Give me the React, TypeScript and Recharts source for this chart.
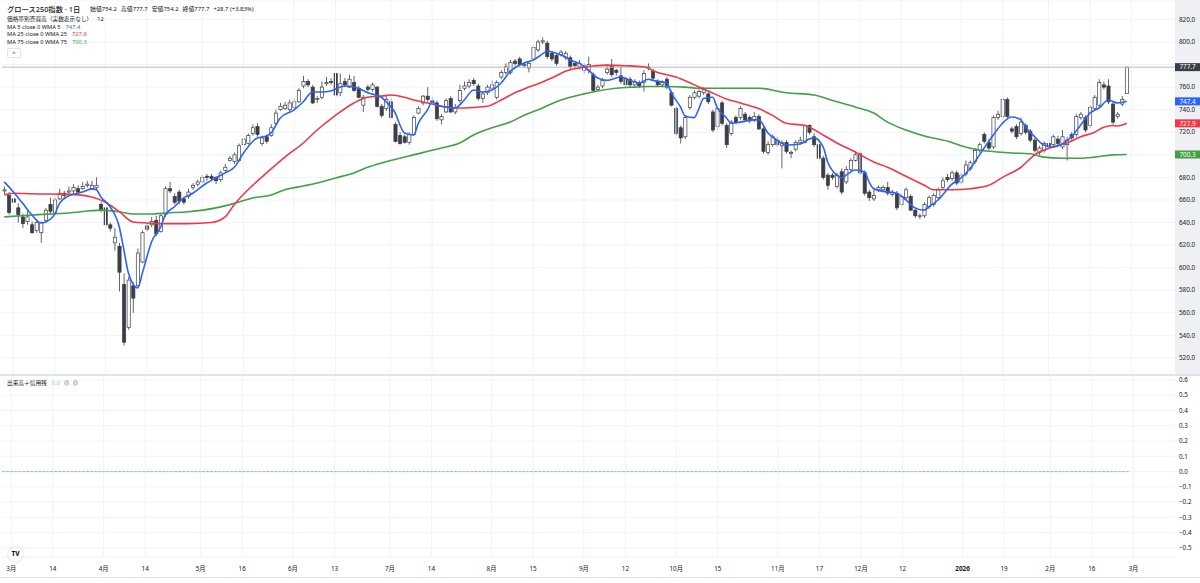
import React from "react";
import { Bar, CartesianGrid, ComposedChart, Line, ReferenceLine, XAxis, YAxis } from "recharts";

const FONT = "'Noto Sans', 'Noto Sans CJK JP', sans-serif";

// Tokyo exchange closed days inside the range
const holidays = [
  "2025-03-20", "2025-04-29", "2025-05-05", "2025-05-06", "2025-07-21", "2025-08-11",
  "2025-09-15", "2025-09-23", "2025-10-13", "2025-11-03", "2025-11-24", "2025-12-31",
  "2026-01-01", "2026-01-02", "2026-01-12", "2026-02-11", "2026-02-23",
];

const opens = [
  668, 664, 661, 653, 645, 641, 638, 633, 631, 642, 656, 649, 661, 666, 667, 668, 670, 670, 673, 670,
  671, 656, 653, 638, 622, 619, 585, 547, 584, 584, 605, 637, 638, 642, 632, 647, 670, 663, 667, 661,
  663, 671, 674, 676, 681, 681, 680, 678, 686, 695, 694, 695, 709, 710, 719, 725, 710, 716, 717, 728,
  740, 741, 740, 742, 747, 761, 765, 760, 749, 751, 763, 765, 772, 755, 765, 760, 764, 759, 744, 760,
  758, 760, 743, 741, 747, 727, 717, 716, 711, 718, 737, 746, 752, 748, 746, 731, 738, 750, 738, 748,
  759, 761, 766, 761, 750, 755, 759, 751, 769, 773, 773, 783, 785, 779, 777, 785, 793, 800, 799, 790,
  788, 789, 786, 786, 781, 778, 775, 775, 771, 758, 761, 773, 779, 775, 770, 768, 767, 762, 764, 764,
  777, 774, 765, 762, 767, 755, 741, 724, 716, 742, 751, 752, 755, 754, 738, 725, 746, 726, 719, 733,
  733, 736, 733, 731, 734, 723, 702, 709, 713, 708, 711, 702, 705, 711, 711, 726, 716, 709, 697, 682,
  682, 672, 685, 676, 687, 695, 701, 684, 667, 661, 669, 669, 671, 665, 666, 656, 662, 663, 651, 646,
  646, 654, 656, 662, 671, 680, 679, 684, 676, 683, 688, 694, 704, 718, 711, 707, 733, 734, 749, 723,
  725, 719, 726, 721, 713, 702, 704, 710, 709, 714, 707, 709, 718, 718, 733, 733, 726, 741, 744, 762,
  761, 745, 734, 745, 754.2,
];
const highs = [
  672, 667, 662, 657, 648, 650, 641, 643, 641, 653, 662, 662, 670, 668, 672, 674, 673, 676, 677, 677,
  680, 658, 655, 640, 635, 622, 595, 592, 587, 617, 633, 640, 645, 646, 648, 672, 676, 666, 669, 663,
  670, 675, 678, 682, 683, 683, 681, 686, 692, 699, 702, 710, 716, 719, 727, 728, 717, 718, 727, 740,
  746, 747, 749, 750, 759, 770, 767, 762, 752, 765, 769, 768, 773, 772, 768, 771, 770, 761, 753, 762,
  764, 761, 745, 752, 750, 729, 720, 718, 720, 735, 743, 753, 760, 751, 748, 736, 750, 752, 745, 762,
  765, 767, 768, 763, 756, 762, 766, 766, 775, 781, 784, 785, 787, 782, 782, 797, 802, 804, 801, 792,
  790, 793, 792, 788, 783, 784, 781, 787, 773, 762, 768, 780, 785, 776, 778, 770, 769, 767, 766, 775,
  781, 776, 767, 766, 769, 757, 743, 726, 735, 753, 757, 758, 760, 756, 740, 743, 748, 728, 731, 735,
  743, 738, 735, 738, 736, 725, 712, 718, 716, 713, 713, 704, 713, 716, 727, 727, 719, 711, 699, 684,
  684, 684, 688, 690, 697, 703, 703, 686, 669, 671, 673, 673, 676, 669, 668, 666, 671, 665, 653, 648,
  658, 664, 666, 671, 680, 683, 686, 686, 684, 695, 695, 706, 711, 720, 714, 735, 739, 751, 751, 725,
  727, 733, 728, 723, 715, 708, 712, 714, 718, 717, 722, 716, 720, 736, 738, 735, 744, 753, 767, 765,
  767, 747, 738, 752, 777.7,
];
const lows = [
  665, 647, 657, 640, 635, 638, 630, 631, 622, 640, 648, 647, 660, 661, 664, 666, 665, 669, 671, 669,
  669, 649, 636, 632, 615, 579, 531, 545, 560, 583, 604, 632, 636, 628, 631, 645, 666, 656, 656, 656,
  661, 669, 672, 675, 677, 677, 674, 676, 685, 694, 692, 694, 707, 709, 717, 716, 708, 710, 716, 727,
  739, 740, 737, 741, 746, 759, 760, 745, 746, 749, 761, 762, 751, 752, 760, 759, 756, 750, 738, 756,
  756, 742, 733, 739, 732, 711, 709, 710, 709, 717, 736, 744, 747, 745, 730, 727, 737, 737, 736, 746,
  757, 759, 761, 748, 746, 753, 757, 749, 767, 771, 771, 779, 778, 777, 773, 783, 791, 798, 785, 783,
  779, 787, 784, 776, 777, 776, 772, 772, 755, 757, 759, 771, 769, 770, 763, 760, 760, 760, 759, 756,
  775, 766, 760, 760, 758, 743, 717, 710, 714, 740, 749, 750, 753, 745, 720, 722, 726, 706, 717, 727,
  731, 729, 728, 729, 722, 701, 700, 707, 707, 688, 701, 697, 703, 709, 710, 718, 707, 694, 678, 669,
  678, 670, 665, 674, 685, 694, 682, 664, 659, 659, 667, 667, 664, 663, 651, 654, 660, 650, 644, 643,
  644, 652, 654, 660, 669, 676, 677, 673, 674, 681, 686, 692, 702, 710, 704, 705, 731, 732, 732, 719,
  714, 717, 718, 711, 702, 700, 702, 705, 707, 708, 705, 695, 713, 716, 731, 720, 724, 739, 742, 758,
  745, 727, 732, 743, 754.2,
];
const closes = [
  669, 649, 658, 647, 639, 645, 631, 640, 640, 651, 650, 660, 666, 664, 668, 671, 667, 672, 674, 673,
  673, 651, 638, 635, 627, 596, 534, 589, 573, 613, 631, 634, 641, 630, 646, 670, 668, 658, 659, 658,
  667, 673, 676, 680, 680, 679, 677, 684, 689, 697, 700, 708, 714, 717, 724, 718, 715, 712, 724, 737,
  743, 744, 746, 747, 757, 765, 762, 746, 750, 760, 764, 764, 753, 763, 762, 767, 757, 751, 751, 758,
  762, 743, 735, 749, 733, 712, 710, 711, 718, 733, 741, 752, 749, 747, 732, 734, 748, 738, 742, 757,
  761, 764, 763, 750, 754, 760, 762, 764, 773, 778, 782, 781, 780, 780, 781, 795, 800, 801, 787, 785,
  781, 791, 790, 778, 779, 781, 779, 780, 757, 760, 766, 776, 771, 773, 765, 762, 762, 765, 761, 772,
  778, 768, 762, 764, 760, 744, 719, 715, 733, 751, 755, 756, 758, 747, 722, 741, 728, 709, 729, 729,
  741, 731, 730, 734, 723, 703, 709, 716, 709, 711, 703, 702, 711, 713, 726, 720, 709, 697, 680, 673,
  680, 682, 667, 687, 695, 700, 684, 666, 662, 664, 671, 671, 666, 667, 653, 663, 669, 651, 646, 646,
  656, 662, 664, 669, 677, 678, 684, 675, 682, 691, 693, 704, 709, 712, 706, 733, 736, 749, 734, 721,
  716, 729, 720, 713, 704, 706, 710, 707, 716, 710, 716, 713, 715, 734, 736, 722, 742, 751, 764, 760,
  747, 729, 736, 749, 777.7,
];

// moving averages: [candle index, value]
const ma5Points: [number, number][] = [
  [0, 676], [2, 667], [4, 657], [6, 646.7], [8, 639.6], [9, 640.5], [11, 647.6], [12, 657], [14, 663.6],
  [17, 667], [19, 669.8], [20, 669], [21, 662.7], [23, 654], [25, 636], [26, 615.7], [27, 595], [29, 582],
  [30, 595], [31, 609.5], [32, 622.8], [34, 636], [35, 646.7], [37, 654], [39, 661.8], [41, 666], [44, 675],
  [46, 679.5], [48, 684], [50, 689], [52, 701.6], [55, 715], [57, 716.7], [58, 719.4], [60, 732.7],
  [63, 739.8], [65, 747], [67, 755.7], [69, 755.7], [71, 756.6], [74, 761], [77, 759], [79, 755], [82, 751],
  [83, 747], [85, 737], [86, 726.5], [87, 719.4], [89, 717.6], [90, 728], [92, 739.8], [93, 747], [94, 744],
  [96, 742.4], [98, 741.5], [100, 748.6], [102, 757.5], [104, 755.7], [106, 757.5], [108, 763.7], [110, 774],
  [113, 781.4], [115, 784], [117, 789.4], [118, 792], [120, 790], [122, 786.7], [123, 784], [125, 781],
  [127, 775], [129, 768], [131, 766], [134, 769], [136, 766], [138, 763.7], [140, 767], [141, 766],
  [144, 763.7], [145, 755], [147, 742.4], [148, 734.4], [150, 733], [151, 741], [152, 750], [154, 751],
  [155, 741.5], [157, 732.7], [158, 728], [160, 729], [163, 731], [164, 731], [166, 719.4], [168, 713],
  [170, 708.7], [173, 709.6], [175, 714], [176, 715], [178, 707], [179, 693.7], [181, 682], [182, 679.5],
  [183, 682], [185, 686.6], [187, 685], [188, 676], [189, 670], [192, 667], [194, 666], [196, 660],
  [198, 653], [200, 651], [201, 654], [203, 660], [206, 674], [208, 679.5], [210, 688], [212, 700],
  [213, 706], [215, 717.6], [217, 728], [219, 733.5], [221, 731], [222, 724.7], [224, 716], [226, 708.7],
  [228, 707], [230, 709.6], [232, 716], [234, 726.5], [236, 737], [238, 741.5], [240, 748.6], [242, 746],
  [244, 747.4],
];
const ma25Points: [number, number][] = [
  [0, 664.5], [2, 666], [6, 665.5], [14, 665], [19, 662.7], [22, 658], [25, 649.6], [28, 640.5], [31, 639.6],
  [35, 639], [40, 639], [45, 640], [48, 645], [50, 656], [54, 673], [57, 684], [61, 698], [65, 710.5],
  [68, 722], [72, 735], [76, 746], [79, 751], [82, 752], [84, 753], [87, 751], [89, 748.6], [92, 746],
  [95, 743], [98, 741.5], [102, 742], [105, 743], [108, 748.6], [111, 755], [114, 760], [117, 764.5],
  [120, 770], [122, 774], [125, 777], [128, 778.7], [131, 779.5], [135, 779], [139, 778], [142, 773],
  [146, 769], [150, 762], [153, 756.6], [157, 749.5], [160, 746], [164, 741], [167, 735], [170, 728],
  [174, 726], [178, 717.6], [181, 710.5], [185, 702.5], [189, 693.7], [192, 689], [196, 681], [200, 673],
  [202, 669], [206, 669], [210, 670], [214, 673], [217, 680], [221, 689], [224, 700], [228, 707],
  [231, 710.5], [234, 716], [237, 720], [239, 724.5], [241, 726], [242, 725.5], [244, 727.9],
];
const ma75Points: [number, number][] = [
  [0, 645], [6, 646.7], [14, 648.5], [21, 651], [25, 649.6], [28, 647.6], [32, 647.6], [35, 648.5],
  [40, 649.6], [46, 653], [50, 657], [54, 661.8], [58, 664.4], [61, 669], [65, 672.4], [68, 675],
  [72, 679.5], [76, 684], [79, 689], [82, 692.8], [88, 699], [95, 706], [99, 710.5], [102, 717.6],
  [106, 724], [110, 729], [113, 735], [117, 741.5], [120, 747], [123, 751], [126, 754], [129, 756.6],
  [133, 759], [137, 760], [140, 760.5], [144, 760.5], [148, 760], [151, 759], [155, 759], [158, 759],
  [164, 759], [170, 755], [176, 753], [181, 747], [185, 742.4], [189, 737], [192, 729], [196, 722],
  [200, 716.7], [206, 711], [208, 708], [212, 704.3], [216, 702.5], [219, 701.6], [223, 701], [226, 698],
  [230, 697], [234, 697], [237, 698], [241, 700], [244, 700.3],
];

const tickDates = [
  "2025-03-03", "2025-03-14", "2025-04-01", "2025-04-14", "2025-05-01", "2025-05-16", "2025-06-02",
  "2025-06-13", "2025-07-01", "2025-07-14", "2025-08-01", "2025-08-15", "2025-09-01", "2025-09-12",
  "2025-10-01", "2025-10-15", "2025-11-04", "2025-11-17", "2025-12-01", "2025-12-12", "2026-01-05",
  "2026-01-19", "2026-02-02", "2026-02-16", "2026-03-02",
];
const tickLabels = [
  "3月", "14", "4月", "14", "5月", "16", "6月", "13", "7月", "14", "8月", "15", "9月", "12",
  "10月", "15", "11月", "17", "12月", "12", "2026", "19", "2月", "16", "3月",
];
const priceTicks = [520, 540, 560, 580, 600, 620, 640, 660, 680, 700, 720, 740, 760, 780, 800, 820];
const hiddenPriceTicks = [700, 780];
const volTicks = [-0.5, -0.4, -0.3, -0.2, -0.1, 0, 0.1, 0.2, 0.3, 0.4, 0.5, 0.6];

const SLOTS = 255;
const START = "2025-02-27";

function tradingDays(): string[] {
  const out: string[] = [];
  const d = new Date(START + "T00:00:00Z");
  while (out.length < SLOTS) {
    const iso = d.toISOString().slice(0, 10);
    const wd = d.getUTCDay();
    if (wd !== 0 && wd !== 6 && !holidays.includes(iso)) out.push(iso);
    d.setUTCDate(d.getUTCDate() + 1);
  }
  return out;
}

const toMap = (pts: [number, number][]) => new Map(pts.map(([i, v]) => [i, v]));
const ma5Map = toMap(ma5Points);
const ma25Map = toMap(ma25Points);
const ma75Map = toMap(ma75Points);

const rows = tradingDays().map((d, i) => {
  const has = i < closes.length;
  return {
    d,
    o: has ? opens[i] : undefined,
    h: has ? highs[i] : undefined,
    l: has ? lows[i] : undefined,
    c: has ? closes[i] : undefined,
    ma5: ma5Map.get(i),
    ma25: ma25Map.get(i),
    ma75: ma75Map.get(i),
    vol: has ? 0 : undefined,
  };
});

const last = closes.length - 1;
const lastClose = closes[last];
const prevClose = closes[last - 1];
const lastMa5 = ma5Points[ma5Points.length - 1][1];
const lastMa25 = ma25Points[ma25Points.length - 1][1];
const lastMa75 = ma75Points[ma75Points.length - 1][1];

const BLUE = "#2962ff";
const RED = "#f23645";
const GREEN = "#43a047";
const INK = "#131722";
const CANDLE = "#3b3e47";
const GRID = "#f0f3fa";

function Candle(props: any) {
  const { x, y, width, height } = props;
  const p = props.payload ?? {};
  if (p.h == null) return null;
  const top = Math.min(y, y + height);
  const span = Math.abs(height);
  const range = p.h - p.l;
  const k = range > 0 ? span / range : 0;
  const yOf = (v: number) => top + (p.h - v) * k;
  const cx = x + width / 2;
  const up = p.c >= p.o;
  const bTop = yOf(Math.max(p.o, p.c));
  const bBot = yOf(Math.min(p.o, p.c));
  const bw = 3.2;
  return (
    <g>
      <line x1={cx} x2={cx} y1={top} y2={top + span} stroke={CANDLE} strokeWidth={0.8} />
      <rect
        x={cx - bw / 2}
        y={bTop}
        width={bw}
        height={Math.max(bBot - bTop, 0.8)}
        fill={up ? "#ffffff" : CANDLE}
        stroke={CANDLE}
        strokeWidth={0.7}
      />
    </g>
  );
}

function PriceTick({ x, y, payload }: any) {
  if (hiddenPriceTicks.includes(payload.value)) return null;
  return (
    <text x={x} y={y} dy="0.35em" fontSize={6.3} fill={INK} fontFamily={FONT}>
      {payload.value.toFixed(1)}
    </text>
  );
}

function VolTick({ x, y, payload }: any) {
  const v = payload.value;
  const s = Math.abs(v) < 1e-9 ? "0.0" : v < 0 ? "\u2212" + Math.abs(v).toFixed(1) : v.toFixed(1);
  return (
    <text x={x} y={y} dy="0.35em" fontSize={6.3} fill={INK} fontFamily={FONT}>
      {s}
    </text>
  );
}

function DateTick({ x, y, payload }: any) {
  const i = tickDates.indexOf(payload.value);
  const label = tickLabels[i] ?? "";
  return (
    <text x={x} y={y + 14} textAnchor="middle" fontSize={6.3} fill={INK} fontFamily={FONT} fontWeight={label === "2026" ? 700 : 400}>
      {label}
    </text>
  );
}

function badge(value: number, color: string) {
  return (props: any) => {
    const vb = props.viewBox ?? {};
    const bx = (vb.x ?? 0) + (vb.width ?? 0);
    const by = vb.y ?? 0;
    return (
      <g>
        <rect x={bx} y={by - 4} width={25} height={8} fill={color} />
        <text x={bx + 12.5} y={by} dy="0.35em" textAnchor="middle" fontSize={6.3} fill="#ffffff" fontFamily={FONT}>
          {value.toFixed(1)}
        </text>
      </g>
    );
  };
}

function PriceChart() {
  return (
    <ComposedChart width={1200} height={375} data={rows} margin={{ top: 0, right: 0, bottom: 0, left: 2 }} barCategoryGap={0}>
      <CartesianGrid vertical={false} stroke={GRID} />
      <XAxis dataKey="d" hide />
      <YAxis
        orientation="right"
        width={25}
        domain={[504.9, 837.2]}
        allowDataOverflow
        ticks={priceTicks}
        interval={0}
        axisLine={false}
        tickLine={false}
        tickSize={4}
        tickMargin={0}
        tick={<PriceTick />}
      />
      {tickDates.map((d) => (
        <ReferenceLine key={d} x={d} stroke={GRID} />
      ))}
      <ReferenceLine y={lastClose} stroke="#b8bbc2" strokeWidth={1} label={badge(lastClose, "#3a3e49")} />
      <Bar
        dataKey={(r: any) => (r.h == null ? undefined : [r.l, r.h])}
        shape={(p: any) => <Candle {...p} />}
        isAnimationActive={false}
      />
      <Line dataKey="ma75" type="monotone" stroke={GREEN} strokeWidth={1.6} dot={false} activeDot={false} connectNulls isAnimationActive={false} />
      <Line dataKey="ma25" type="monotone" stroke={RED} strokeWidth={1.6} dot={false} activeDot={false} connectNulls isAnimationActive={false} />
      <Line dataKey="ma5" type="monotone" stroke={BLUE} strokeWidth={1.6} dot={false} activeDot={false} connectNulls isAnimationActive={false} />
      <ReferenceLine y={lastMa5} stroke="none" label={badge(lastMa5, BLUE)} />
      <ReferenceLine y={lastMa25} stroke="none" label={badge(lastMa25, RED)} />
      <ReferenceLine y={lastMa75} stroke="none" label={badge(lastMa75, GREEN)} />
    </ComposedChart>
  );
}

function VolumeChart() {
  return (
    <ComposedChart width={1200} height={208} data={rows} margin={{ top: 0, right: 0, bottom: 0, left: 2 }}>
      <CartesianGrid vertical={false} stroke={GRID} />
      <XAxis
        dataKey="d"
        ticks={tickDates}
        interval={0}
        axisLine={false}
        tickLine={false}
        tickSize={0}
        tickMargin={0}
        height={26}
        tick={<DateTick />}
      />
      <YAxis
        orientation="right"
        width={25}
        domain={[-0.5592, 0.6327]}
        allowDataOverflow
        ticks={volTicks}
        interval={0}
        axisLine={false}
        tickLine={false}
        tickSize={4}
        tickMargin={0}
        tick={<VolTick />}
      />
      {tickDates.map((d) => (
        <ReferenceLine key={d} x={d} stroke={GRID} />
      ))}
      <Line dataKey="vol" type="linear" stroke="#86b7f7" strokeWidth={1} strokeDasharray="3 1" dot={false} activeDot={false} isAnimationActive={false} />
    </ComposedChart>
  );
}

const abs = (left: number, top: number, extra: React.CSSProperties = {}): React.CSSProperties => ({
  position: "absolute",
  left,
  top,
  whiteSpace: "nowrap",
  lineHeight: 1,
  ...extra,
});

export default function App() {
  const change = lastClose - prevClose;
  const pct = (change / prevClose) * 100;
  const ohlc: [string, number][] = [
    ["始値", opens[last]],
    ["高値", highs[last]],
    ["安値", lows[last]],
    ["終値", closes[last]],
  ];
  return (
    <div style={{ position: "relative", width: 1200, height: 583, background: "#fff", fontFamily: FONT, color: INK, overflow: "hidden" }}>
      <style>{"body{margin:0}"}</style>
      <div style={{ position: "absolute", left: 1175, top: 0, width: 25, height: 375, background: "#eef0f4" }} />
      <div style={{ position: "absolute", left: 0, top: 0 }}>
        <PriceChart />
      </div>
      <div style={{ position: "absolute", left: 0, top: 375 }}>
        <VolumeChart />
      </div>
      <div style={{ position: "absolute", left: 0, top: 374, width: 1200, height: 1.5, background: "#e0e3eb" }} />
      <div style={{ position: "absolute", left: 0, top: 577, width: 1200, height: 1, background: "#e0e3eb" }} />

      <div style={abs(7, 6, { fontSize: 7.3, fontWeight: 500 })}>グロース250指数 · 1日</div>
      <div style={abs(90, 7.2, { fontSize: 5.9 })}>
        {ohlc.map(([k, v]) => (
          <span key={k} style={{ marginRight: 4 }}>
            {k}
            {v.toFixed(1)}
          </span>
        ))}
        <span>
          {change >= 0 ? "+" : ""}
          {change.toFixed(1)} ({pct >= 0 ? "+" : ""}
          {pct.toFixed(2)}%)
        </span>
      </div>
      <div style={abs(7, 16.7, { fontSize: 5.7 })}>
        価格帯別売買高（実数表示なし）<span style={{ marginLeft: 5 }}>12</span>
      </div>
      <div style={abs(7, 24.7, { fontSize: 5.7 })}>
        MA 5 close 0 WMA 5<span style={{ marginLeft: 5, color: BLUE }}>{lastMa5.toFixed(1)}</span>
      </div>
      <div style={abs(7, 31.7, { fontSize: 5.7 })}>
        MA 25 close 0 WMA 25<span style={{ marginLeft: 5, color: RED }}>{lastMa25.toFixed(1)}</span>
      </div>
      <div style={abs(7, 39.7, { fontSize: 5.7 })}>
        MA 75 close 0 WMA 75<span style={{ marginLeft: 5, color: GREEN }}>{lastMa75.toFixed(1)}</span>
      </div>
      <div
        style={abs(7, 48, {
          width: 14,
          height: 10,
          border: "1px solid #e0e3eb",
          borderRadius: 2,
          fontSize: 6,
          display: "flex",
          alignItems: "center",
          justifyContent: "center",
          boxSizing: "border-box",
          background: "#fff",
        })}
      >
        ^
      </div>

      <div style={abs(7, 380.5, { fontSize: 5.7 })}>
        出来高＋信用残<span style={{ marginLeft: 5, color: "#90bff9" }}>0.0</span>
        <span style={{ marginLeft: 4, color: "#50535e" }}>⊘</span>
        <span style={{ marginLeft: 3, color: "#50535e" }}>⊘</span>
      </div>

      <div
        style={abs(8, 547, {
          width: 15,
          height: 15,
          borderRadius: "50%",
          background: "#fff",
          boxShadow: "0 0 2px rgba(0,0,0,0.25)",
          display: "flex",
          alignItems: "center",
          justifyContent: "center",
          fontSize: 6.5,
          fontWeight: 800,
          color: "#131722",
        })}
      >
        TV
      </div>
    </div>
  );
}
